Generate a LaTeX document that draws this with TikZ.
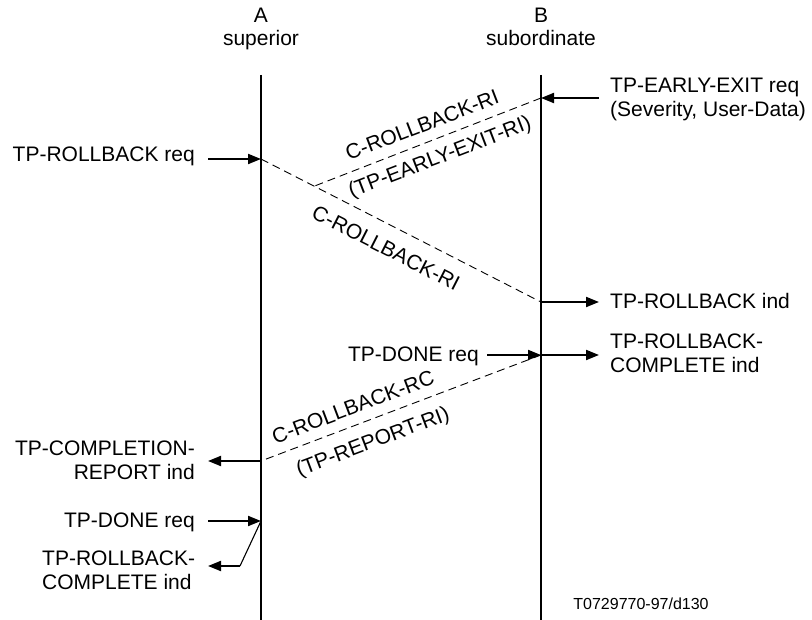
\documentclass[tikz,border=0pt]{standalone}
\usepackage{fontspec}
\setmainfont{Liberation Sans}
\usetikzlibrary{arrows.meta,calc}
\begin{document}
\begin{tikzpicture}[x=1pt,y=-1pt,
  lbl/.style={inner sep=0pt,font=\fontsize{21}{24}\selectfont},
  small/.style={inner sep=0pt,font=\fontsize{16}{19}\selectfont},
  life/.style={line width=2pt},
  msg/.style={line width=2pt,-{Triangle[length=13pt,width=10pt]}},
  thinline/.style={line width=1.1pt},
  pdu/.style={line width=0.9pt,dash pattern=on 8pt off 5pt},
]
\useasboundingbox[fill=white] (0,0) rectangle (812,620);
% lifelines
\coordinate (a0) at (261,75); \coordinate (a1) at (261,620);
\coordinate (b0) at (541,75); \coordinate (b1) at (541,620);
\draw[life] (a0) -- (a1);
\draw[life] (b0) -- (b1);
% headers
\node[lbl,anchor=base] (hA) at (261,22.5) {A};
\node[lbl,anchor=base] (hAs) at (261,46) {superior};
\node[lbl,anchor=base] (hB) at (541,22.5) {B};
\node[lbl,anchor=base] (hBs) at (541,46) {subordinate};
% points on lifelines
\coordinate (bEE) at (541,98);
\coordinate (aRR) at (261,159);
\coordinate (bRI) at (541,302);
\coordinate (bDN) at (541,355);
\coordinate (aCR) at (261,461);
\coordinate (aDN) at (261,521);
% free ends
\coordinate (eeS) at (599,98);
\coordinate (rrS) at (208,159);
\coordinate (riE) at (599,302);
\coordinate (dnS) at (487,355);
\coordinate (rcE) at (599,355);
\coordinate (crE) at (208,461);
\coordinate (dnaS) at (208,521);
\coordinate (kink) at (240,566);
\coordinate (rcaE) at (208,566);
\coordinate (cross) at ($(aRR)!0.19!(bRI)$);
% right texts
\node[lbl,anchor=base west] (tEE1) at (610,93) {TP-EARLY-EXIT req};
\node[lbl,anchor=base west] (tEE2) at (610,117) {(Severity, User-Data)};
\node[lbl,anchor=base west] (tRI) at (610,309) {TP-ROLLBACK ind};
\node[lbl,anchor=base west] (tRC1) at (610,349) {TP-ROLLBACK-};
\node[lbl,anchor=base west] (tRC2) at (610,373) {COMPLETE ind};
\node[lbl,anchor=base east] (tDNB) at (479,362) {TP-DONE req};
% left texts
\node[lbl,anchor=base east] (tRR) at (195,162) {TP-ROLLBACK req};
\node[lbl,anchor=base east] (tCR1) at (195,455.5) {TP-COMPLETION-};
\node[lbl,anchor=base east] (tCR2) at (195,479.5) {REPORT ind};
\node[lbl,anchor=base east] (tDNA) at (195,527) {TP-DONE req};
\node[lbl,anchor=base west] (tRCA1) at (42,565) {TP-ROLLBACK-};
\node[lbl,anchor=base west] (tRCA2) at (42,589) {COMPLETE ind};
% primitives arrows
\draw[msg] (eeS) -- (bEE);
\draw[msg] (rrS) -- (aRR);
\draw[msg] (bRI) -- (riE);
\draw[msg] (dnS) -- (bDN);
\draw[msg] (bDN) -- (rcE);
\draw[msg] (aCR) -- (crE);
\draw[msg] (dnaS) -- (aDN);
\draw[thinline] (aDN) -- (kink);
\draw[msg] (kink) -- (rcaE);
% PDUs
\draw[pdu] (bEE) -- (cross);
\draw[pdu] (aRR) -- (bRI);
\draw[pdu] (bDN) -- (aCR);
% PDU labels
\node[lbl,rotate=21] (p1) at (422,125) {C-ROLLBACK-RI};
\node[lbl,rotate=21] (p1b) at (440,158) {(TP-EARLY-EXIT-RI)};
\node[lbl,rotate=-27] (p2) at (386,248) {C-ROLLBACK-RI};
\node[lbl,rotate=20.7] (p3) at (353,407) {C-ROLLBACK-RC};
\node[lbl,rotate=20.7] (p3b) at (373,443) {(TP-REPORT-RI)};
% figure id
\node[small,anchor=base] (fid) at (641,609) {T0729770-97/d130};
\end{tikzpicture}
\end{document}
